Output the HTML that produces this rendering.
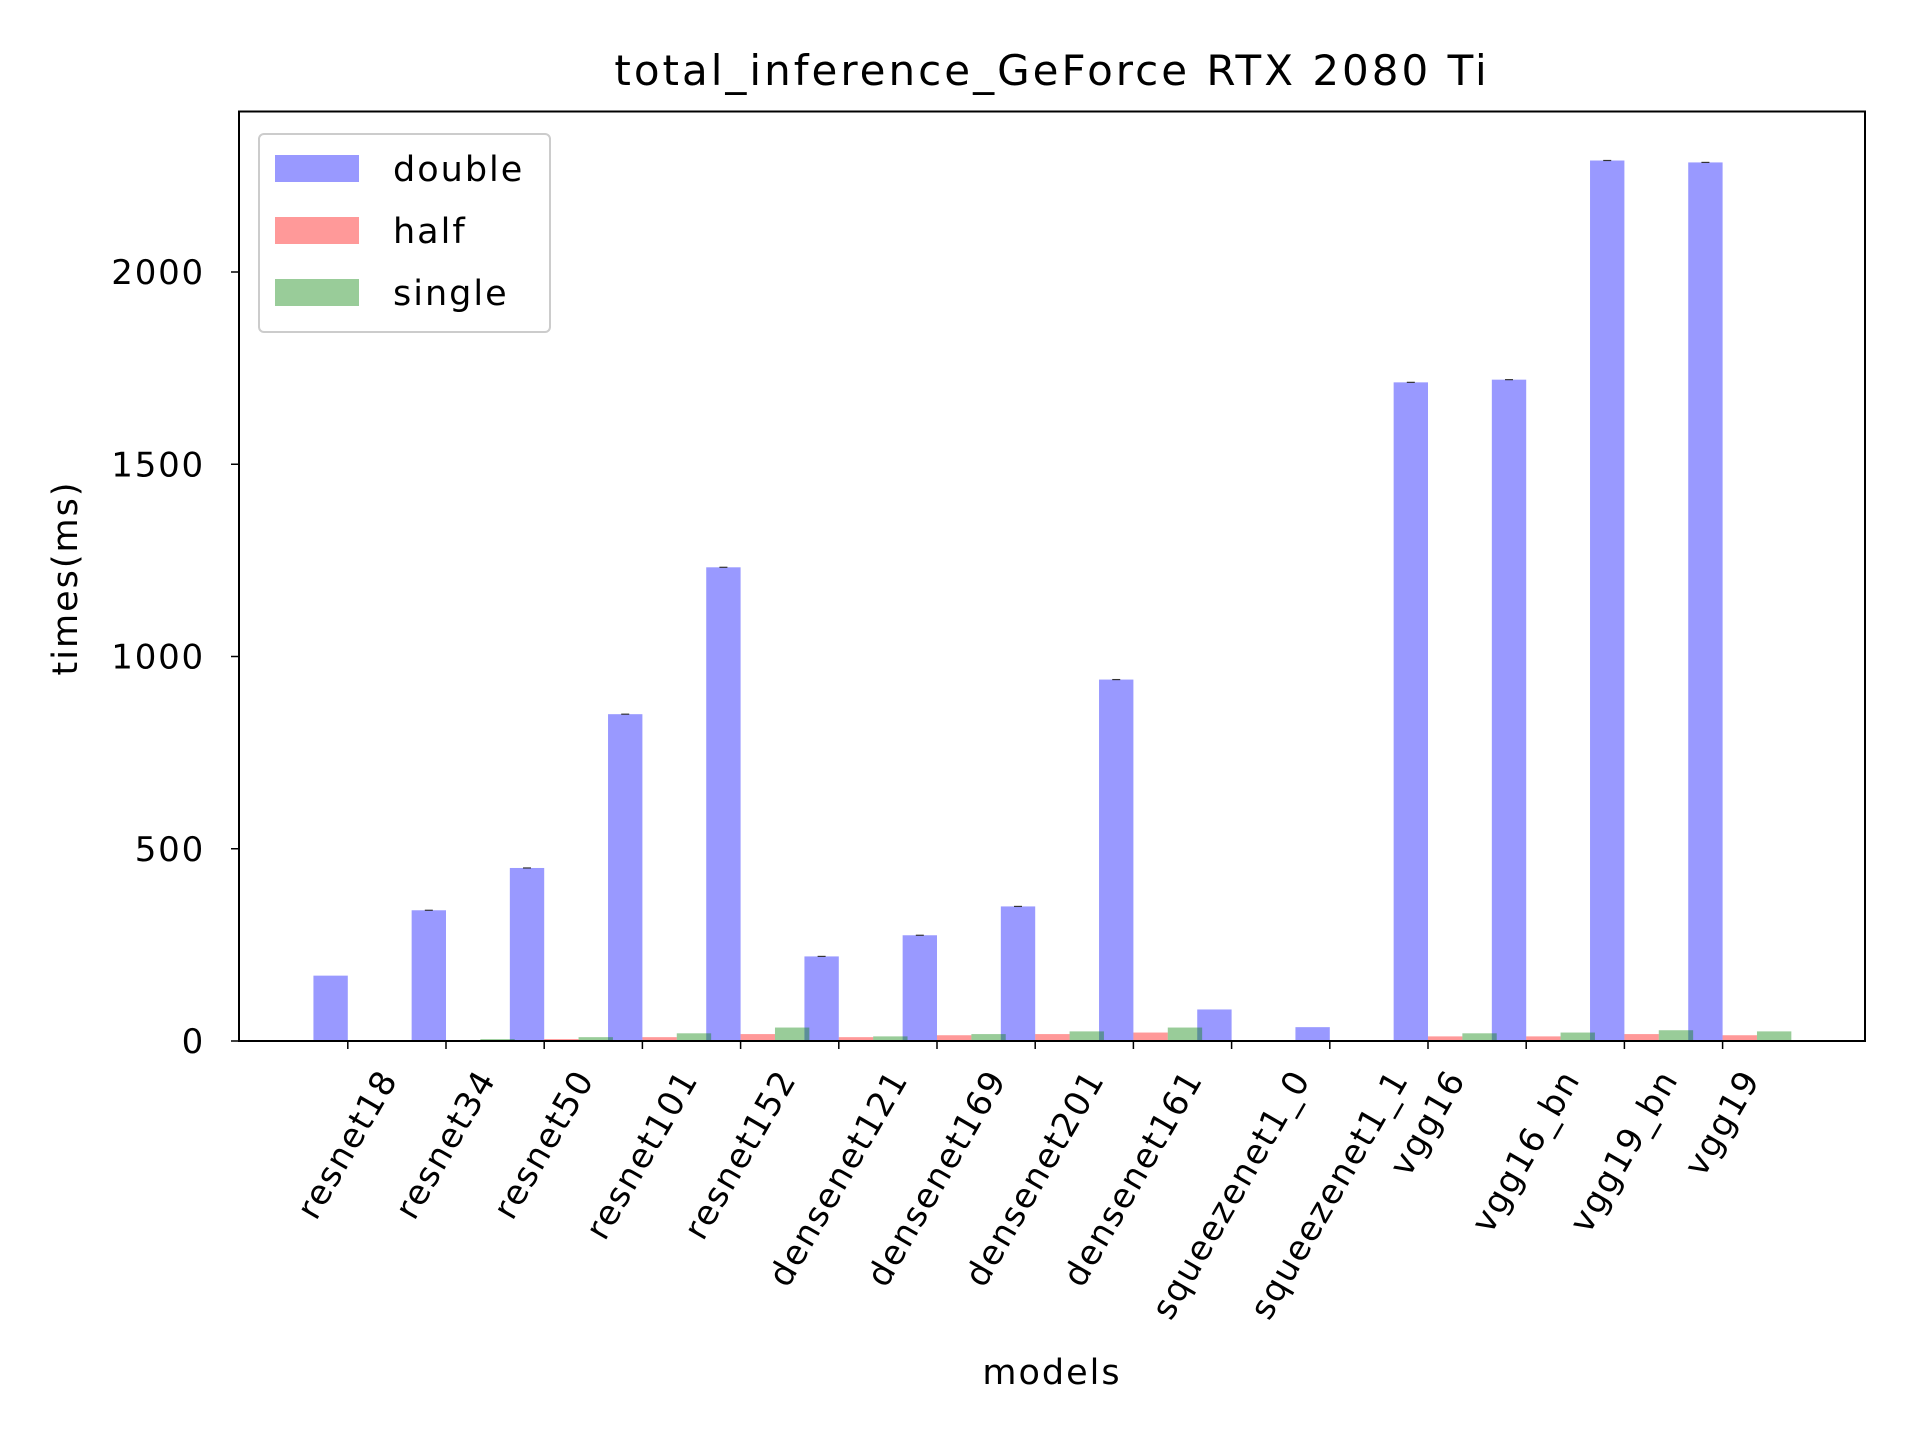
<!DOCTYPE html>
<html><head><meta charset="utf-8"><style>
body{margin:0;background:#fff}
svg{display:block;font-family:"DejaVu Sans","Liberation Sans",sans-serif}
</style></head><body>
<svg id="chart" width="1920" height="1440" viewBox="0 0 1920 1440">
<rect width="1920" height="1440" fill="#fff"/>
<text x="1052" y="85" font-size="42" letter-spacing="3" text-anchor="middle">total_inference_GeForce RTX 2080 Ti</text>
<g id="bars"></g>
<g id="axes"></g>
<text x="0" y="0" font-size="35" letter-spacing="2" text-anchor="middle" transform="translate(77,578) rotate(-90)">times(ms)</text>
<text x="1052" y="1384" font-size="35" letter-spacing="2" text-anchor="middle">models</text>
<g>
<rect x="259" y="134" width="291" height="198" rx="5" fill="#fff" fill-opacity="0.8" stroke="#ccc" stroke-width="2"/>
<g><rect x="275" y="155" width="84" height="27" fill="#0000ff" fill-opacity="0.4"/><text x="393" y="181" font-size="35" letter-spacing="2">double</text></g>
<g><rect x="275" y="217" width="84" height="27" fill="#ff0000" fill-opacity="0.4"/><text x="393" y="243" font-size="35" letter-spacing="2">half</text></g>
<g><rect x="275" y="279" width="84" height="27" fill="#008000" fill-opacity="0.4"/><text x="393" y="305" font-size="35" letter-spacing="2">single</text></g>
</g>
</svg>
<script>
const categories=["resnet18","resnet34","resnet50","resnet101","resnet152","densenet121","densenet169","densenet201","densenet161","squeezenet1_0","squeezenet1_1","vgg16","vgg16_bn","vgg19_bn","vgg19"];
const doubleVals=[170,340,450,850,1232,220,275,350,940,82,36,1713,1720,2290,2285];
const halfVals=[0,2,5,10,18,10,15,18,22,0,0,12,12,18,15];
const singleVals=[0,5,10,20,35,12,18,25,35,0,0,20,22,28,25];
const yTicks=[0,500,1000,1500,2000];

const NS="http://www.w3.org/2000/svg";
const L=239,R=1865,T=111.5,B=1041;
const yMax=(B-T)/(192.25/500);
const step=98.2, x0=347.8, w=step*0.35;
function xs(i){return x0+i*step;}
function ys(v){return B-v*(B-T)/yMax;}
function mk(tag,attrs,parent){const e=document.createElementNS(NS,tag);for(const k in attrs)e.setAttribute(k,attrs[k]);parent.appendChild(e);return e;}
const bars=document.getElementById('bars'), axes=document.getElementById('axes');
const series=[[doubleVals,"#0000ff",-1,"double"],[halfVals,"#ff0000",0,"half"],[singleVals,"#008000",1,"single"]];
series.forEach(([vals,col,off,nm])=>{
  vals.forEach((v,i)=>{
    const x=xs(i)+off*w;
    const r=mk('rect',{x:x,y:ys(v),width:w,height:B-ys(v),fill:col,'fill-opacity':0.4},bars);
    
    
    if(v>200){
      const c=mk('line',{x1:x+w/2-4,x2:x+w/2+4,y1:ys(v),y2:ys(v),stroke:'#333','stroke-width':1.2},bars);
      
      
    }
  });
});
const frame=mk('rect',{x:L,y:T,width:R-L,height:B-T,fill:'none',stroke:'#000','stroke-width':2},axes);


yTicks.forEach(t=>{
  const y=ys(t);
  mk('line',{x1:L-8,x2:L,y1:y,y2:y,stroke:'#000','stroke-width':1.5},axes);
  const tx=mk('text',{x:L-34,y:y+12,'font-size':34,'letter-spacing':1.8,'text-anchor':'end'},axes);
  tx.textContent=t;
  
  
});
categories.forEach((c,i)=>{
  const x=xs(i);
  mk('line',{x1:x,x2:x,y1:B,y2:B+8,stroke:'#000','stroke-width':1.5},axes);
  const tx=mk('text',{x:0,y:0,'font-size':34,'letter-spacing':1.8,'text-anchor':'middle','dominant-baseline':'central'},axes);
  tx.textContent=c;
  
  
  const len=tx.getComputedTextLength(), h=28;
  const bh=len*Math.sin(Math.PI/3)+h*Math.cos(Math.PI/3);
  const cy=B+25+bh/2;
  tx.setAttribute('transform','translate('+x+','+cy+') rotate(-60)');
});
</script>
</body></html>
